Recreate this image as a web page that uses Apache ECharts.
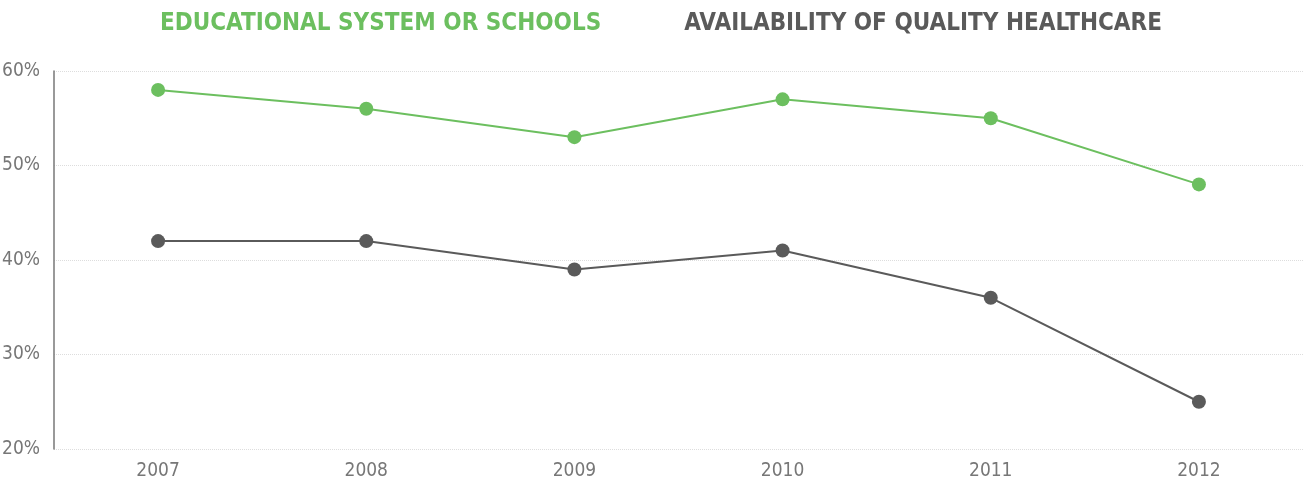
<!DOCTYPE html>
<html>
<head>
<meta charset="utf-8">
<script src="https://cdn.jsdelivr.net/npm/echarts@6/dist/echarts.min.js"></script>
<style>
  html, body { margin: 0; padding: 0; background: #fff; }
  #chart { width: 1304px; height: 487px; }
</style>
</head>
<body>
<div id="chart"></div>
<script>
const years = ['2007', '2008', '2009', '2010', '2011', '2012']
const education = [58, 56, 53, 57, 55, 48]
const healthcare = [42, 42, 39, 41, 36, 25]
const seriesNames = ['EDUCATIONAL SYSTEM OR SCHOOLS', 'AVAILABILITY OF QUALITY HEALTHCARE']

const green = '#6cbf5f'
const gray = '#5a5a5a'
const thinFont = '"Liberation Sans Narrow", "DejaVu Sans Condensed", sans-serif'

const chart = echarts.init(document.getElementById('chart'))
chart.setOption({
  animation: false,
  legend: {
    top: 7,
    left: 150,
    itemGap: 78,
    icon: 'none',
    itemWidth: 0,
    selectedMode: false,
    data: [
      { name: seriesNames[0], textStyle: { color: green } },
      { name: seriesNames[1], textStyle: { color: gray } }
    ],
    textStyle: {
      fontFamily: '"DejaVu Sans Condensed", sans-serif',
      fontWeight: 'bold',
      fontSize: 24
    }
  },
  grid: { left: 54, right: 1, top: 71, bottom: 38, outerBoundsMode: 'none' },
  xAxis: {
    type: 'category',
    data: years,
    axisLine: { show: false },
    axisTick: { show: false },
    axisLabel: { color: '#777', fontFamily: thinFont, fontSize: 19, margin: 13 }
  },
  yAxis: {
    type: 'value',
    min: 20,
    max: 60,
    interval: 10,
    axisLine: { show: true, lineStyle: { color: '#777', width: 1.5 } },
    axisTick: { show: false },
    axisLabel: {
      color: '#777', fontFamily: thinFont, fontSize: 19, margin: 14,
      padding: [8, 0, 0, 0],
      formatter: '{value}%'
    },
    splitLine: { lineStyle: { color: '#ddd', type: 'dotted' } }
  },
  series: [
    {
      name: seriesNames[0],
      type: 'line',
      data: education,
      symbol: 'circle',
      symbolSize: 14,
      itemStyle: { color: green },
      lineStyle: { color: green, width: 2 }
    },
    {
      name: seriesNames[1],
      type: 'line',
      data: healthcare,
      symbol: 'circle',
      symbolSize: 14,
      itemStyle: { color: gray },
      lineStyle: { color: gray, width: 2 }
    }
  ]
})
</script>
</body>
</html>
